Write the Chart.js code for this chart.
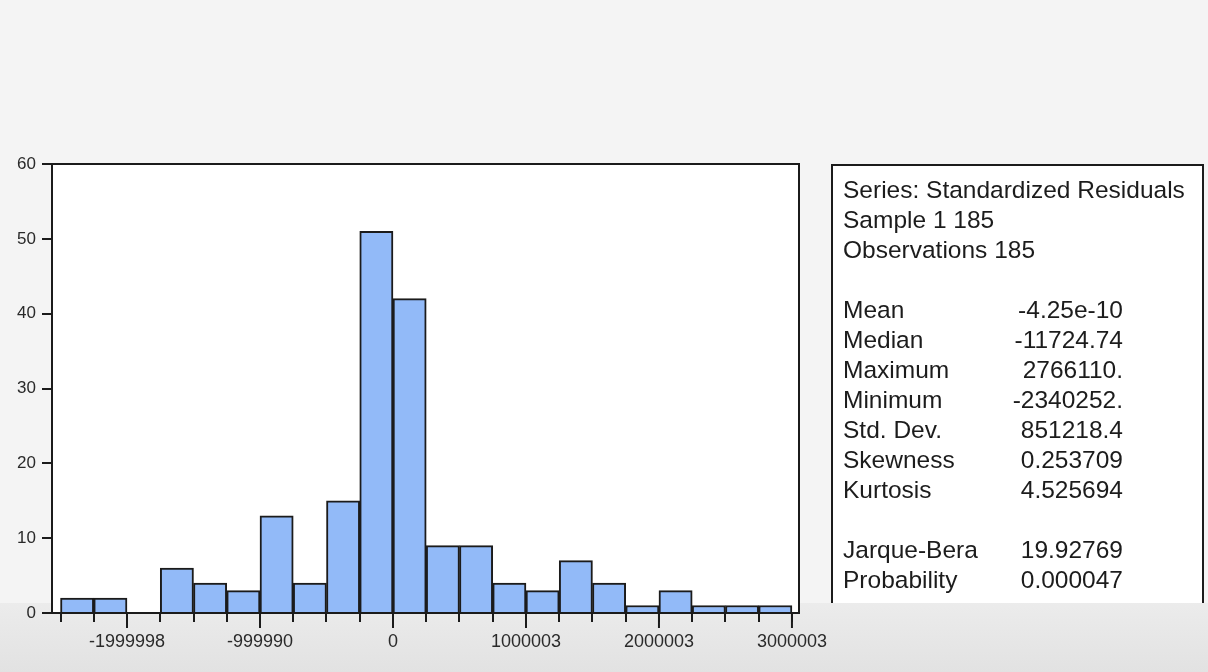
<!DOCTYPE html>
<html>
<head>
<meta charset="utf-8">
<script src="https://cdn.jsdelivr.net/npm/chart.js@4/dist/chart.umd.min.js"></script>
<style>
  html, body { margin: 0; padding: 0; background: #f3f3f3; }
  #wrap { width: 1208px; height: 672px; position: relative; }
  canvas { display: block; }
</style>
</head>
<body>
<div id="wrap"><canvas id="hist" width="1208" height="672"></canvas></div>
<script>
// Histogram of standardized residuals: lower edge of each bin and its count
const binStarts = [-2500000, -2250000, -2000000, -1750000, -1500000, -1250000,
                   -1000000, -750000, -500000, -250000, 0, 250000, 500000,
                   750000, 1000000, 1250000, 1500000, 1750000, 2000000,
                   2250000, 2500000, 2750000];
const binCounts = [2, 2, 0, 6, 4, 3, 13, 4, 15, 51, 42, 9, 9, 4, 3, 7, 4, 1, 3, 1, 1, 1];
const binWidth = 250000;

// Labelled x positions and the text printed under them
const xLabelValues = [-2000000, -1000000, 0, 1000000, 2000000, 3000000];
const xLabelTexts = ['-1999998', '-999990', '0', '1000003', '2000003', '3000003'];

// Descriptive statistics panel
const headerLines = ['Series: Standardized Residuals', 'Sample 1 185', 'Observations 185'];
const statNames = ['Mean', 'Median', 'Maximum', 'Minimum', 'Std. Dev.', 'Skewness', 'Kurtosis'];
const statValues = ['-4.25e-10', '-11724.74', '2766110.', '-2340252.', '851218.4', '0.253709', '4.525694'];
const testNames = ['Jarque-Bera', 'Probability'];
const testValues = ['19.92769', '0.000047'];

const binEdges = binStarts.concat([binStarts[binStarts.length - 1] + binWidth]);
const points = binStarts.map((s, i) => ({ x: s + binWidth / 2, y: binCounts[i] }));

const INK = '#1b1b1b';
const FONT = '"Liberation Sans", Arial, sans-serif';

const backdrop = {
  id: 'backdrop',
  beforeDraw(chart) {
    const { ctx, width, height, chartArea } = chart;
    ctx.save();
    ctx.fillStyle = '#f4f4f4';
    ctx.fillRect(0, 0, width, height);
    const g = ctx.createLinearGradient(0, 600, 0, height);
    g.addColorStop(0, '#ececec');
    g.addColorStop(1, '#e2e2e2');
    ctx.fillStyle = g;
    ctx.fillRect(0, 603, width, height - 603);
    ctx.fillStyle = '#ffffff';
    ctx.fillRect(chartArea.left, chartArea.top, chartArea.right - chartArea.left, chartArea.bottom - chartArea.top);
    ctx.restore();
  }
};

const frameAndPanel = {
  id: 'frameAndPanel',
  afterDraw(chart) {
    const { ctx, chartArea } = chart;
    const xs = chart.scales.x;
    ctx.save();
    // plot frame
    ctx.strokeStyle = INK;
    ctx.lineWidth = 2;
    ctx.strokeRect(chartArea.left, chartArea.top, chartArea.right - chartArea.left, chartArea.bottom - chartArea.top);
    // longer marks at labelled positions
    ctx.lineWidth = 2;
    xLabelValues.forEach(v => {
      const px = xs.getPixelForValue(v);
      ctx.beginPath();
      ctx.moveTo(px, chartArea.bottom);
      ctx.lineTo(px, chartArea.bottom + 15);
      ctx.stroke();
    });

    // statistics box
    const bx = 832, by = 165, bw = 371, bh = 438;
    ctx.fillStyle = '#ffffff';
    ctx.fillRect(bx, by, bw, bh);
    ctx.strokeStyle = INK;
    ctx.lineWidth = 2;
    ctx.beginPath();
    ctx.moveTo(bx, by + bh);
    ctx.lineTo(bx, by);
    ctx.lineTo(bx + bw, by);
    ctx.lineTo(bx + bw, by + bh);
    ctx.stroke();

    ctx.fillStyle = '#1c1c1c';
    ctx.font = '24.5px ' + FONT;
    ctx.textBaseline = 'middle';
    const left = 843, right = 1123, top = 191, step = 30;
    let row = 0;
    headerLines.forEach(t => {
      ctx.textAlign = 'left';
      ctx.fillText(t, left, top + step * row++);
    });
    row++;
    statNames.forEach((n, i) => {
      ctx.textAlign = 'left';
      ctx.fillText(n, left, top + step * row);
      ctx.textAlign = 'right';
      ctx.fillText(statValues[i], right, top + step * row);
      row++;
    });
    row++;
    testNames.forEach((n, i) => {
      ctx.textAlign = 'left';
      ctx.fillText(n, left, top + step * row);
      ctx.textAlign = 'right';
      ctx.fillText(testValues[i], right, top + step * row);
      row++;
    });
    ctx.restore();
  }
};

new Chart(document.getElementById('hist'), {
  type: 'bar',
  data: {
    datasets: [{
      data: points,
      backgroundColor: 'rgb(146,186,248)',
      borderColor: INK,
      borderWidth: 2,
      borderSkipped: 'start',
      barPercentage: 1,
      categoryPercentage: 1
    }]
  },
  options: {
    responsive: false,
    animation: false,
    devicePixelRatio: 1,
    layout: { padding: { left: 0, top: 164, right: 409, bottom: 0 } },
    plugins: { legend: { display: false }, tooltip: { enabled: false }, title: { display: false } },
    scales: {
      x: {
        type: 'linear',
        offset: false,
        min: -2564000,
        max: 3053000,
        afterBuildTicks(scale) { scale.ticks = binEdges.map(v => ({ value: v })); },
        afterFit(scale) { scale.height = 59; },
        grid: { offset: false, drawOnChartArea: false, tickLength: 9, color: INK, lineWidth: 2 },
        border: { display: true, color: INK, width: 2 },
        ticks: {
          autoSkip: false,
          maxRotation: 0,
          padding: 9,
          color: '#2a2a2a',
          font: { family: FONT, size: 18 },
          callback(value) {
            const k = xLabelValues.indexOf(value);
            return k >= 0 ? xLabelTexts[k] : '';
          }
        }
      },
      y: {
        min: 0,
        max: 60,
        afterFit(scale) { scale.width = 52; },
        grid: { drawOnChartArea: false, tickLength: 10, color: INK, lineWidth: 2 },
        border: { display: true, color: INK, width: 2 },
        ticks: {
          stepSize: 10,
          padding: 6,
          color: '#2a2a2a',
          font: { family: FONT, size: 17 }
        }
      }
    }
  },
  plugins: [backdrop, frameAndPanel]
});
</script>
</body>
</html>
